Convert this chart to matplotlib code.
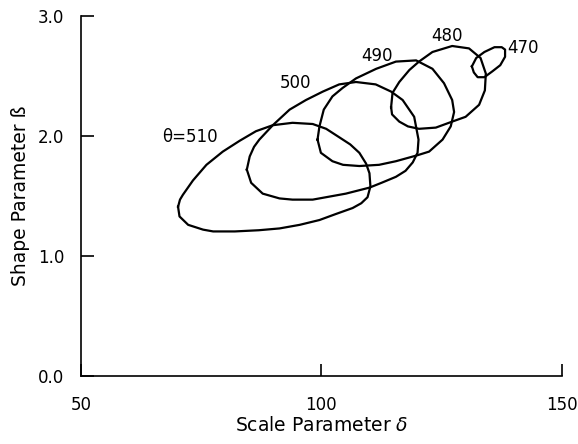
import numpy as np
import matplotlib.pyplot as plt

# contour outlines, one closed curve per theta
theta_labels = ['\u03b8=510', '500', '490', '480', '470']

scale_510 = [70.2, 70.6, 71.2, 73.3, 76.1, 79.5, 83.0, 86.4, 89.9, 94.0, 98.2, 101.0,
             103.7, 106.0, 107.9, 109.3, 110.0, 110.2, 109.6, 108.3, 106.5, 103.0,
             99.6, 95.5, 91.3, 87.0, 82.0, 77.5, 75.4, 72.3, 70.5]
shape_510 = [1.41, 1.47, 1.51, 1.63, 1.76, 1.87, 1.96, 2.04, 2.09, 2.11, 2.10, 2.06,
             1.99, 1.93, 1.86, 1.77, 1.69, 1.58, 1.49, 1.44, 1.40, 1.35,
             1.30, 1.26, 1.23, 1.215, 1.205, 1.205, 1.22, 1.26, 1.33]

scale_500 = [84.5, 85.1, 86.0, 87.1, 89.9, 93.4, 96.8, 100.3, 103.7, 107.2, 111.3, 114.5,
             116.9, 119.3, 120.2, 120.0, 119.0, 117.5, 115.5, 112.5, 110.0, 105.1,
             98.2, 94.0, 91.3, 87.8, 85.4]
shape_500 = [1.72, 1.83, 1.91, 1.97, 2.09, 2.22, 2.30, 2.37, 2.43, 2.45, 2.43, 2.37,
             2.30, 2.16, 1.97, 1.86, 1.78, 1.71, 1.66, 1.61, 1.57, 1.52,
             1.47, 1.47, 1.48, 1.52, 1.61]

scale_490 = [99.2, 99.6, 100.5, 102.3, 104.4, 107.2, 111.4, 115.5, 119.7, 123.1, 125.5,
             127.2, 127.6, 126.9, 125.2, 122.4, 120.0, 115.5, 112.0, 107.9, 104.5,
             102.3, 99.9]
shape_490 = [1.97, 2.08, 2.22, 2.33, 2.40, 2.48, 2.56, 2.62, 2.63, 2.56, 2.44,
             2.30, 2.20, 2.08, 1.97, 1.87, 1.84, 1.79, 1.76, 1.75, 1.76,
             1.79, 1.86]

scale_480 = [114.5, 114.8, 116.2, 118.3, 120.3, 123.1, 127.2, 130.7, 133.1, 134.2,
             134.0, 132.8, 130.0, 127.2, 123.8, 120.3, 118.0, 116.2, 114.7]
shape_480 = [2.24, 2.36, 2.45, 2.55, 2.62, 2.70, 2.75, 2.73, 2.65, 2.52,
             2.38, 2.26, 2.16, 2.12, 2.07, 2.06, 2.08, 2.12, 2.18]

scale_470 = [131.3, 132.2, 133.9, 136.0, 137.5, 138.2, 138.2, 137.2, 135.6, 133.9, 132.5, 131.7]
shape_470 = [2.58, 2.65, 2.70, 2.74, 2.74, 2.72, 2.66, 2.59, 2.54, 2.49, 2.49, 2.53]

# where the theta labels sit
label_x = [72.6, 94.7, 111.5, 126.1, 141.9]
label_y = [1.99, 2.44, 2.67, 2.83, 2.73]

curves = [(scale_510, shape_510), (scale_500, shape_500), (scale_490, shape_490),
          (scale_480, shape_480), (scale_470, shape_470)]

fig = plt.figure(figsize=(5.78, 4.44), dpi=100)
ax = fig.add_axes([0.140, 0.153, 0.832, 0.811])

for xs, ys in curves:
    xs = list(xs) + [xs[0]]
    ys = list(ys) + [ys[0]]
    ax.plot(xs, ys, color='black', lw=1.6, solid_joinstyle='round')

for lab, lx, ly in zip(theta_labels, label_x, label_y):
    ax.text(lx, ly, lab, fontsize=12, ha='center', va='center')

ax.set_xlim(50, 150)
ax.set_ylim(0, 3.0)
ax.set_xticks([50, 100, 150])
ax.set_xticklabels(['50', '100', '150'])
ax.set_yticks([0, 1, 2, 3])
ax.set_yticklabels(['0.0', '1.0', '2.0', '3.0'])
ax.tick_params(direction='in', length=9, width=1.2, labelsize=12)
ax.tick_params(axis='y', pad=12)
ax.tick_params(axis='x', pad=14)
for s in ['top', 'right']:
    ax.spines[s].set_visible(False)
for s in ['left', 'bottom']:
    ax.spines[s].set_linewidth(1.2)

ax.set_xlabel('Scale Parameter $\\delta$', fontsize=13.5, labelpad=2)
ax.set_ylabel('Shape Parameter \u00df', fontsize=13.5, labelpad=6)

fig.savefig('out.png', dpi=100)
